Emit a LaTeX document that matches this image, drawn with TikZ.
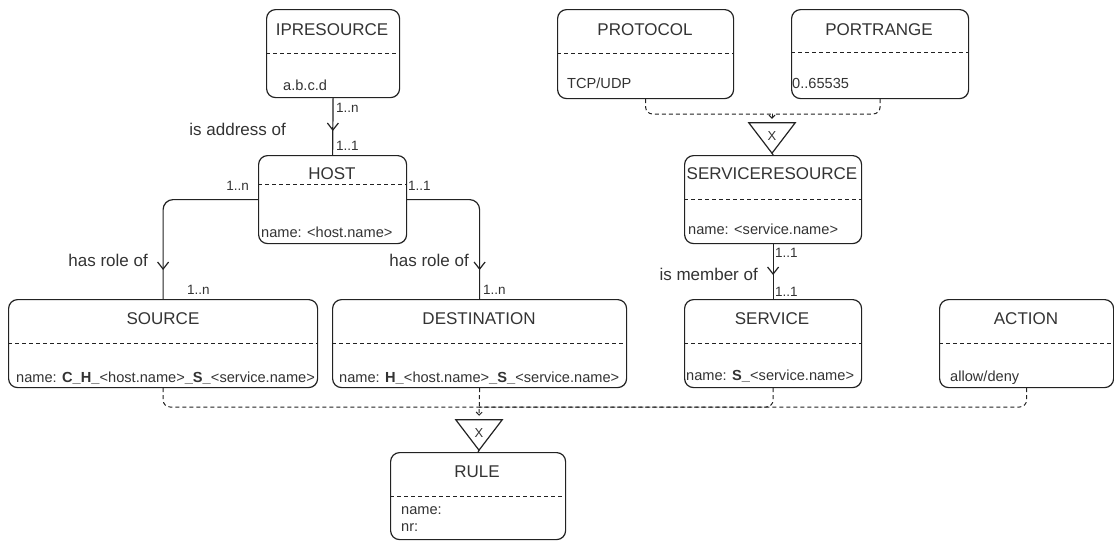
\documentclass[tikz,border=0pt]{standalone}
\usepackage{fontspec}
\setmainfont{Liberation Sans}
\usetikzlibrary{arrows.meta,decorations.markings,calc}

\definecolor{ink}{HTML}{222222}
\definecolor{txt}{HTML}{333333}

% entity box: rounded frame plus a dashed divider #5 pt below its top
\newcommand\entity[5]{%
  \node[entbox, minimum width=#3, minimum height=#4] (#1) at (#2) {};
  \draw[divider] ([yshift=-#5]#1.north west) -- ([yshift=-#5]#1.north east);
}

\begin{document}
\begin{tikzpicture}[x=1pt,y=-1pt,
  entbox/.style={draw=ink, line width=1.2pt, rounded corners=9pt, inner sep=0pt, anchor=north west},
  divider/.style={draw=ink, line width=0.9pt, dash pattern=on 4pt off 3pt},
  ttl/.style={font=\fontsize{17}{20}\selectfont, text=txt, inner sep=0pt},
  attr/.style={font=\fontsize{14.6}{17}\selectfont, text=txt, inner sep=0pt, anchor=west},
  lbl/.style={font=\fontsize{17}{20}\selectfont, text=txt, inner sep=0pt},
  mult/.style={font=\fontsize{13.5}{16}\selectfont, text=txt, inner sep=0pt, anchor=west},
  rel/.style={draw=ink, line width=1.2pt, rounded corners=10pt,
    decoration={markings, mark=at position #1 with {\arrow{Straight Barb[length=7pt,width=11pt]}}},
    postaction={decorate}},
  dep/.style={draw=ink, line width=1pt, dash pattern=on 4pt off 3pt, rounded corners=7pt,
    -{Straight Barb[length=3pt,width=6pt]}, shorten >=4pt},
  link/.style={draw=ink, line width=1pt, dash pattern=on 4pt off 3pt, rounded corners=7pt},
  tri/.style={minimum width=46pt, minimum height=30pt, inner sep=0pt,
    font=\fontsize{13}{15}\selectfont, text=txt},
]
\useasboundingbox (0,0) rectangle (1114,541);

% ---------- entities ----------
\entity{ip}{266,9}{133pt}{88pt}{44pt}
\node[ttl] (ip-t) at (332,30) {IPRESOURCE};
\node[attr] (ip-a) at (283,85) {a.b.c.d};

\entity{host}{258,155}{148pt}{88pt}{29pt}
\node[ttl] (host-t) at (332,174) {HOST};
\node[attr] (host-a) at (261,232) {name: <host.name>};

\entity{src}{8,299}{309pt}{88pt}{44pt}
\node[ttl] (src-t) at (163,319) {SOURCE};
\node[attr] (src-a) at (16,378) {name: \textbf{C\_H\_}<host.name>\textbf{\_S\_}<service.name>};

\entity{dst}{332,299}{294pt}{88pt}{44pt}
\node[ttl] (dst-t) at (479,319) {DESTINATION};
\node[attr] (dst-a) at (339,378) {name: \textbf{H\_}<host.name>\textbf{\_S\_}<service.name>};

\entity{proto}{557,9}{176pt}{89pt}{44pt}
\node[ttl] (proto-t) at (645,30) {PROTOCOL};
\node[attr] (proto-a) at (567,83) {TCP/UDP};

\entity{prange}{791,9}{177pt}{89pt}{43pt}
\node[ttl] (prange-t) at (879,30) {PORTRANGE};
\node[attr] (prange-a) at (792,83) {0..65535};

\entity{sres}{684,155}{177pt}{88pt}{44pt}
\node[ttl] (sres-t) at (772,174) {SERVICERESOURCE};
\node[attr] (sres-a) at (688,229) {name: <service.name>};

\entity{svc}{684,299}{177pt}{88pt}{44pt}
\node[ttl] (svc-t) at (772,319) {SERVICE};
\node[attr] (svc-a) at (686,376) {name: \textbf{S\_}<service.name>};

\entity{act}{939,299}{174pt}{88pt}{44pt}
\node[ttl] (act-t) at (1026,319) {ACTION};
\node[attr] (act-a) at (950,378) {allow/deny};

\entity{rule}{390,452}{175pt}{87pt}{44pt}
\node[ttl] (rule-t) at (477,472) {RULE};
\node[attr] (rule-a) at (401,511) {name:};
\node[attr] (rule-b) at (401,528) {nr:};

% ---------- product triangles ----------
\node[tri] (t1) at (772,138) {\raisebox{3pt}{X}};
\draw[ink, line width=1.2pt, line join=miter] (t1.north west) -- (t1.north east) -- (t1.south) -- cycle;
\node[tri] (t2) at (479,435) {\raisebox{3pt}{X}};
\draw[ink, line width=1.2pt, line join=miter] (t2.north west) -- (t2.north east) -- (t2.south) -- cycle;

% ---------- relations ----------
\draw[rel=-24pt] (ip.south) -- (host.north);
\node[lbl, anchor=east] (l-addr) at (286,129) {is address of};
\node[mult] (m1) at (336,108) {1..n};
\node[mult] (m2) at (336,146) {1..1};

\draw[rel=-29pt] (host.west) -| (src.north);
\draw[rel=-29pt] (host.east) -| (dst.north);
\node[lbl, anchor=east] (l-role1) at (148,260) {has role of};
\node[lbl, anchor=east] (l-role2) at (469,260) {has role of};
\node[mult, anchor=east] (m3) at (249,186) {1..n};
\node[mult] (m4) at (408,186) {1..1};
\node[mult] (m5) at (187,290) {1..n};
\node[mult] (m6) at (483,290) {1..n};

\draw[rel=-24pt] (sres.south) -- (svc.north);
\node[lbl, anchor=east] (l-member) at (758,274) {is member of};
\node[mult] (m7) at (775,253) {1..1};
\node[mult] (m8) at (775,292) {1..1};

% ---------- dashed product links ----------
\coordinate (j1) at (772,114);
\draw[link] (proto.south) |- (j1);
\draw[link] (prange.south) |- (j1);
\draw[dep] (j1) -- (t1.north);
\draw[ink, line width=1.2pt] (t1.south) -- (sres.north);

\coordinate (j2) at (479,407);
\draw[link] (src.south) |- (j2);
\draw[link] (svc.south) |- (j2);
\draw[link] (act.south) |- (j2);
\draw[dep] (dst.south) -- (t2.north);
\draw[ink, line width=1.2pt] (t2.south) -- (rule.north);
\end{tikzpicture}
\end{document}
